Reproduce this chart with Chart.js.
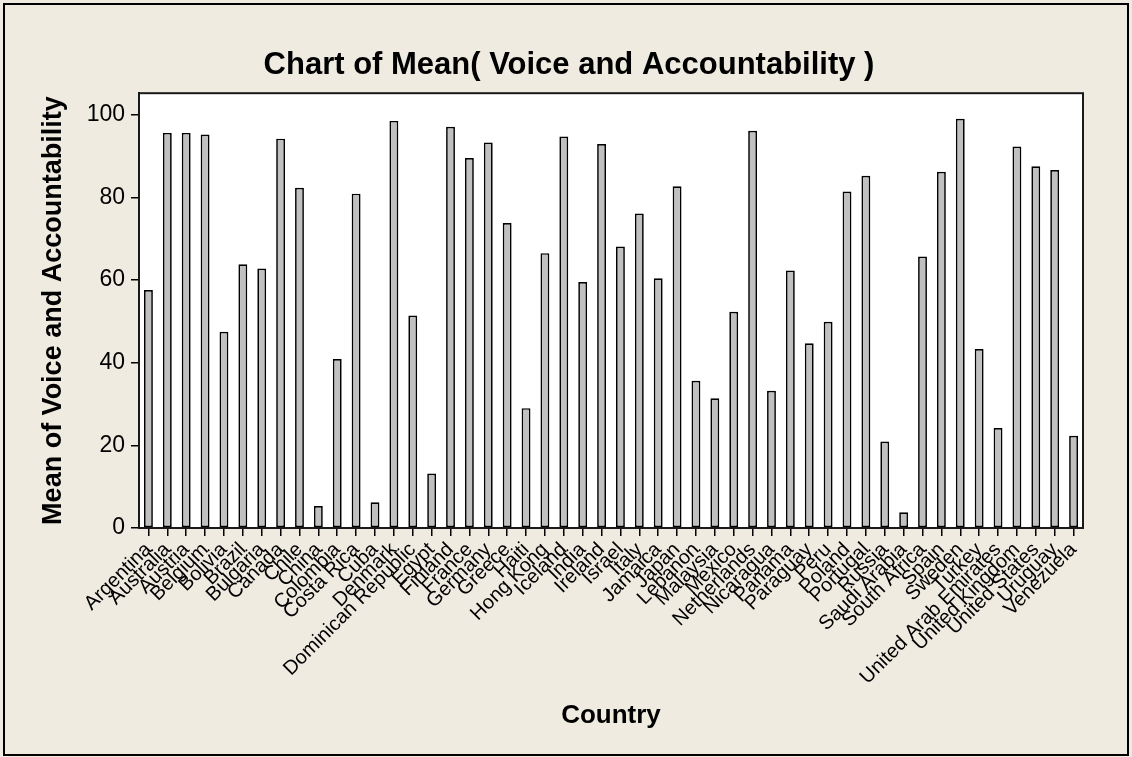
<!DOCTYPE html>
<html>
<head>
<meta charset="utf-8">
<script src="https://cdn.jsdelivr.net/npm/chart.js@4"></script>
<style>
  body { margin: 0; background: #EFEBE1; }
  #wrap { width: 1132px; height: 757px; position: relative; }
</style>
</head>
<body>
<div id="wrap"><canvas id="meanChart"></canvas></div>
<script>
// Countries on the x axis
const countries = [
  'Argentina', 'Australia', 'Austria', 'Belgium', 'Bolivia', 'Brazil', 'Bulgaria', 'Canada', 'Chile', 'China',
  'Colombia', 'Costa Rica', 'Cuba', 'Denmark', 'Dominican Republic', 'Egypt', 'Finland', 'France', 'Germany', 'Greece',
  'Haiti', 'Hong Kong', 'Iceland', 'India', 'Ireland', 'Israel', 'Italy', 'Jamaica', 'Japan', 'Lebanon',
  'Malaysia', 'Mexico', 'Netherlands', 'Nicaragua', 'Panama', 'Paraguay', 'Peru', 'Poland', 'Portugal', 'Russia',
  'Saudi Arabia', 'South Africa', 'Spain', 'Sweden', 'Turkey', 'United Arab Emirates', 'United Kingdom', 'United States', 'Uruguay', 'Venezuela'
];

// Mean of Voice and Accountability
const meanValues = [
  57.6, 95.6, 95.6, 95.2, 47.5, 63.8, 62.8, 94.2, 82.3, 5.3,
  40.9, 80.9, 6.2, 98.5, 51.4, 13.2, 97.1, 89.5, 93.3, 73.8,
  29.0, 66.5, 94.7, 59.5, 92.9, 68.1, 76.1, 60.4, 82.7, 35.6,
  31.4, 52.3, 96.1, 33.2, 62.3, 44.7, 49.9, 81.4, 85.2, 20.9,
  3.8, 65.7, 86.2, 99.0, 43.3, 24.2, 92.3, 87.5, 86.6, 22.3
];

// y axis ticks
const yTicks = [0, 20, 40, 60, 80, 100];
const yMax = 105.2;

const FONT = "'Liberation Sans', Arial, sans-serif";

// background, white plot area and the frames
const framePlugin = {
  id: 'frame',
  beforeDraw(chart) {
    const { ctx, chartArea: a, width, height } = chart;
    ctx.save();
    ctx.fillStyle = '#EFEBE1';
    ctx.fillRect(0, 0, width, height);
    ctx.fillStyle = '#ffffff';
    ctx.fillRect(a.left, a.top, a.right - a.left, a.bottom - a.top);
    ctx.strokeStyle = '#000000';
    ctx.lineWidth = 2;
    ctx.strokeRect(4, 4, width - 8, height - 6);
    ctx.restore();
  },
  afterDraw(chart) {
    const { ctx, chartArea: a } = chart;
    ctx.save();
    ctx.strokeStyle = '#1a1a1a';
    ctx.lineWidth = 2;
    ctx.strokeRect(a.left, a.top, a.right - a.left, a.bottom - a.top);
    ctx.restore();
  }
};

const ctx = document.getElementById('meanChart').getContext('2d');
const meanChart = new Chart(ctx, {
  type: 'bar',
  data: {
    labels: countries,
    datasets: [{
      data: meanValues,
      backgroundColor: '#C0C0C0',
      borderColor: '#000000',
      borderWidth: 1.7,
      borderSkipped: false,
      barPercentage: 0.47,
      categoryPercentage: 1
    }]
  },
  options: {
    responsive: true,
    maintainAspectRatio: false,
    animation: false,
    // left padding also shifts the title so it sits centred like the original
    layout: { padding: { top: 6, left: 55, right: 49, bottom: 6 } },
    plugins: {
      legend: { display: false },
      tooltip: { enabled: false },
      title: {
        display: true,
        text: 'Chart of Mean( Voice and Accountability )',
        color: '#000000',
        font: { family: FONT, size: 31, weight: 'bold' },
        padding: { top: 41, bottom: 9 }
      }
    },
    scales: {
      x: {
        afterFit: (scale) => { scale.height = 223; },
        grid: { display: true, drawOnChartArea: false, offset: false, tickLength: 8, color: '#000000', lineWidth: 1.5 },
        border: { display: true, color: '#000000', width: 2 },
        ticks: {
          autoSkip: false,
          minRotation: 45,
          maxRotation: 45,
          padding: 2,
          color: '#000000',
          font: { family: FONT, size: 20 }
        },
        title: {
          display: true,
          text: 'Country',
          color: '#000000',
          font: { family: FONT, size: 26, weight: 'bold' },
          padding: { top: 0, bottom: 20 }
        }
      },
      y: {
        min: 0,
        max: yMax,
        afterFit: (scale) => { scale.width = 84; },
        afterBuildTicks: (scale) => { scale.ticks = yTicks.map(v => ({ value: v })); },
        grid: { display: true, drawOnChartArea: false, tickLength: 8, color: '#000000', lineWidth: 1.5 },
        border: { display: true, color: '#000000', width: 2 },
        ticks: {
          padding: 6,
          color: '#000000',
          font: { family: FONT, size: 23 }
        },
        title: {
          display: true,
          text: 'Mean of Voice and Accountability',
          color: '#000000',
          font: { family: FONT, size: 27, weight: 'bold' },
          padding: { top: -18, bottom: 0 }
        }
      }
    }
  },
  plugins: [framePlugin]
});
</script>
</body>
</html>
